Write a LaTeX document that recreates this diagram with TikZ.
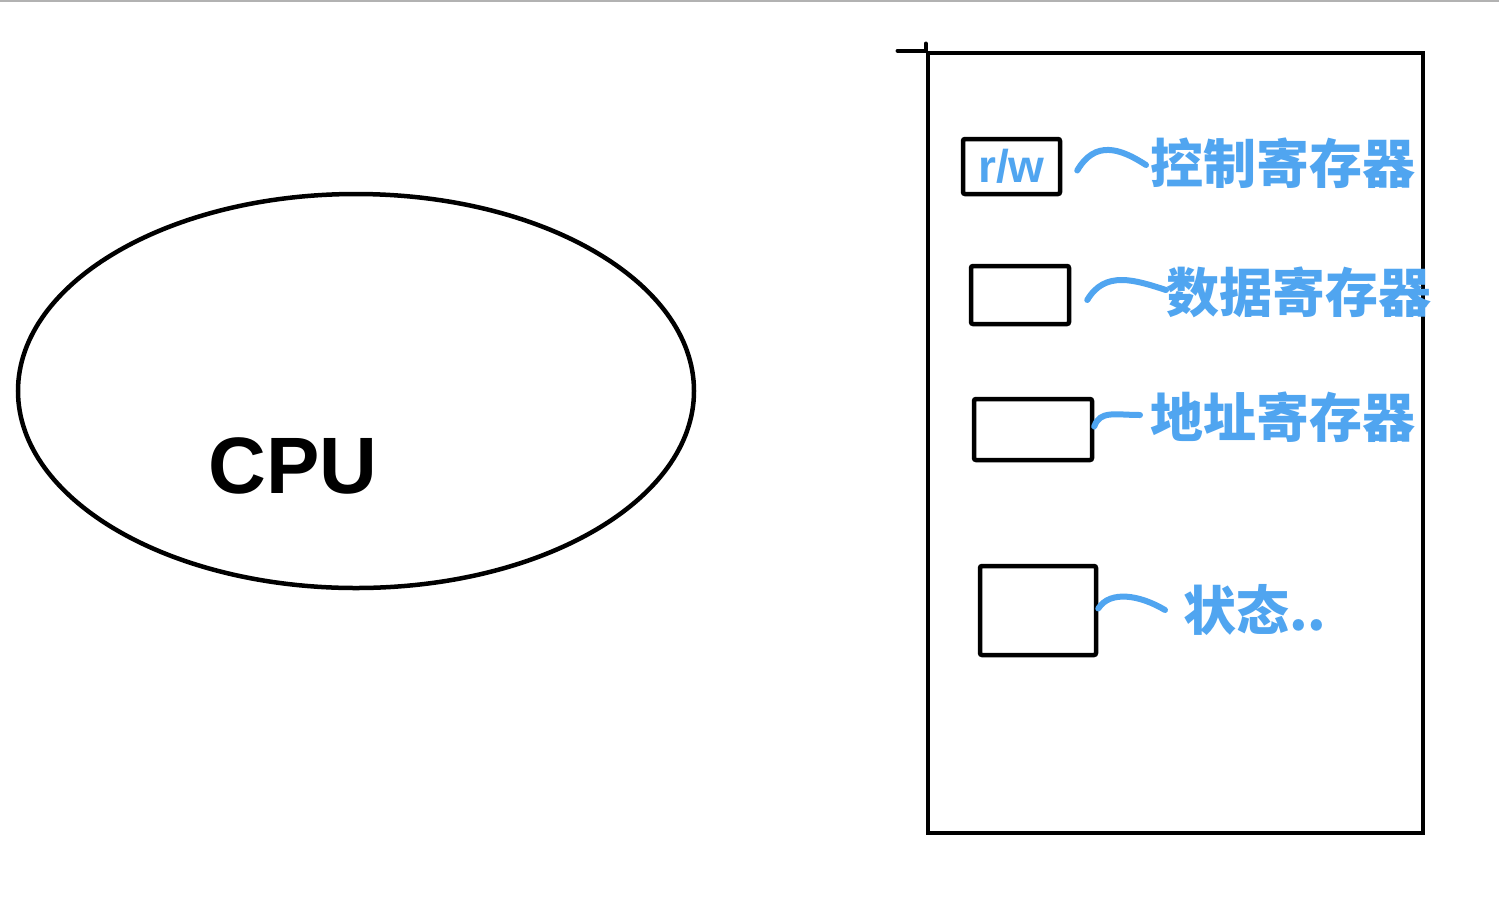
\documentclass[tikz,border=0pt]{standalone}
\usepackage{fontspec}
\setsansfont{Liberation Sans}
\newfontfamily\cjk{Noto Sans CJK SC}
\usetikzlibrary{shapes.geometric}
\definecolor{ink}{RGB}{80,165,240}
\tikzset{
  blk/.style={draw=black, line width=4.5pt},
  regbox/.style={blk, rectangle, rounded corners=2pt, inner sep=0pt},
  lbl/.style={text=ink, anchor=west, inner sep=0pt, font=\cjk\bfseries\fontsize{53}{60}\selectfont},
  wave/.style={draw=ink, line width=6pt, line cap=round}
}
\begin{document}
\begin{tikzpicture}[x=1pt,y=-1pt]
\useasboundingbox (0,0) rectangle (1499,898);
\fill[white] (0,0) rectangle (1499,898);
\coordinate (tl) at (0,0.8);
\coordinate (tr) at (1499,0.8);
\draw[gray!60, line width=1.6pt] (tl) -- (tr);
% CPU
\node[blk, ellipse, minimum width=676pt, minimum height=394pt, inner sep=0pt] (cpu) at (356,391) {};
\node[inner sep=0pt, font=\sffamily\bfseries\fontsize{80}{90}\selectfont] (cputxt) at (293,466) {CPU};
% memory / interface
\node[blk, rectangle, minimum width=495pt, minimum height=780pt, inner sep=0pt] (mem) at (1175.5,443) {};
\draw[blk, line cap=round] (mem.north west) -- ++(-28,0);
\draw[blk, line cap=round] (mem.north west) -- ++(0,-7);
% registers
\node[regbox, minimum width=97pt, minimum height=55pt, text=ink, font=\sffamily\bfseries\fontsize{46}{50}\selectfont] (b1) at (1011.5,166.5) {r/w};
\node[regbox, minimum width=98pt, minimum height=58pt] (b2) at (1020,295) {};
\node[regbox, minimum width=118pt, minimum height=61pt] (b3) at (1033,429.5) {};
\node[regbox, minimum width=116pt, minimum height=89pt] (b4) at (1038,610.5) {};
% labels
\node[lbl] (l1) at (1150,163) {控制寄存器};
\node[lbl] (l2) at (1166,292) {数据寄存器};
\node[lbl] (l3) at (1150,417) {地址寄存器};
\node[lbl] (l4) at (1183,610) {状态..};
% connectors
\draw[wave] ([xshift=15pt,yshift=-4pt]b1.east) .. controls (1095,140) and (1120,148) .. ([xshift=-4pt,yshift=-2pt]l1.west);
\draw[wave] ([xshift=16pt,yshift=-5pt]b2.east) .. controls (1105,270) and (1135,280) .. ([xshift=0pt,yshift=2pt]l2.west);
\draw[wave] ([xshift=0pt,yshift=3pt]b3.east) .. controls (1100,410) and (1115,415) .. ([xshift=-10pt,yshift=2pt]l3.west);
\draw[wave] ([xshift=0pt,yshift=2pt]b4.east) .. controls (1110,590) and (1140,595) .. ([xshift=-18pt,yshift=0pt]l4.west);
\end{tikzpicture}
\end{document}
